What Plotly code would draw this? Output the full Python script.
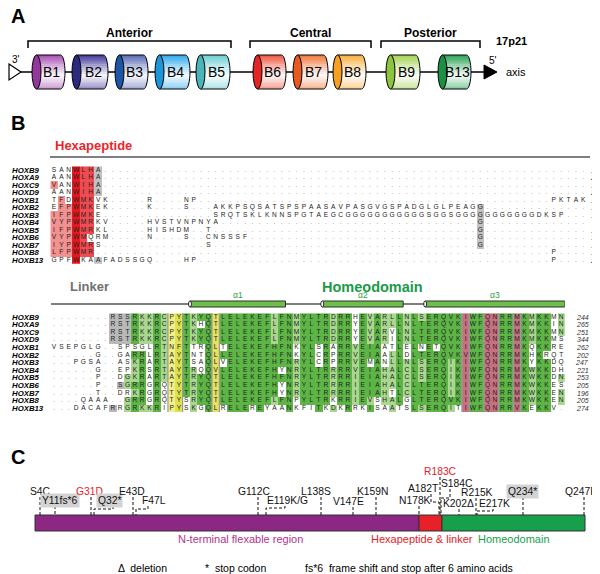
import numpy as np
import plotly.graph_objects as go
from collections import Counter

W, H = 600, 574
FONT = "Liberation Sans, Arial, Helvetica, sans-serif"

# ====================== DATA ======================
cluster_genes = ["B1", "B2", "B3", "B4", "B5", "B6", "B7", "B8", "B9", "B13"]
cluster_groups = ["Anterior", "Central", "Posterior"]
locus_band = "17p21"

align_genes = ["HOXB9", "HOXA9", "HOXC9", "HOXD9", "HOXB1", "HOXB2", "HOXB3",
               "HOXB4", "HOXB5", "HOXB6", "HOXB7", "HOXB8", "HOXB13"]
G = "."  # alignment gap symbol
hexa_seqs = [
    "SANWLHA" + G * 66,
    "AANWLHA" + G * 66,
    "VANWIHA" + G * 66,
    "AANWIHA" + G * 66,
    "TFDWMKVK" + G * 5 + "R" + G * 4 + "NP" + G * 48 + "PKTAK",
    "EFPWMKEK" + G * 5 + "K" + G * 4 + "S" + G * 3 + "AKKPSQSATSPSP" + "AASAVPASGVGSPADGLGLPEAGG" + G * 14,
    "IFPWMKE" + G * 15 + "SRQTSKLKNNSPG" + "TAEGCGGGGGGGGGGGSGGSGGGG" + "GGGGGGGDKSP" + G * 3,
    "VYPWMRKV" + G * 5 + "HVSTVNPNYA" + G * 35 + "G" + G * 14,
    "IFPWMRKL" + G * 5 + "HISHDM" + G * 2 + "T" + G * 36 + "G" + G * 14,
    "VYPWMQRM" + G * 5 + "N" + G * 4 + "S" + G * 2 + "CNSSSF" + G * 31 + "G" + G * 14,
    "IYPWMRS" + G * 14 + "S" + G * 36 + "G" + G * 14,
    "LFPWMR" + G * 62 + "P" + G * 4,
    "GPFWKAAFADSSGQ" + G * 4 + "HP" + G * 48 + "P" + G * 4,
]
hexa_end_pos = [182, 203, 189, 282, 194, 140, 182, 40, 191, 143, 134, 140, 208]

hd_seqs = [
    "........RSSRKKRCPYTKYQTLELEKEFLFNMYLTRDRRHEVARLLNLSERQVKIWFQNRRMKMKKMN",
    "........RSTRKKRCPYTKHQTLELEKEFLFNMYLTRDRRYEVARLLNLTERQVKIWFQNRRMKMKKIN",
    "........RSTRKKRCPYTKYQTLELEKEFLFNMYLTRDRRYEVARVLNLTERQVKIWFQNRRMKMKKMN",
    "........RSTRKKRCPYTKYQTLELEKEFLFNMYLTRDRRYEVARILNLTERQVKIWFQNRRMKMKKMS",
    "VSEPGLG..SPSGLRTNFTTRQLTELEKEFHFNKYLSRARRVEIAATLELNETQVKIWFQNRRMKQKKRE",
    "......G..GARRLRTAYTNTQLLELEKEFHFNKYLCRPRRVEIAALLDLTERQVKVWFQNRRMKHKRQT",
    "...PGSA..ASKRARTAYTSAQLVELEKEFHFNRYLCRPRRVEMANLLNLSERQIKIWFQNRRMKYKKDQ",
    "......G..EPKRSRTAYTRQQVLELEKEFHYNRYLTRRRRVEIAHALCLSERQIKIWFQNRRMKWKKDH",
    "......P..DGKRARTAYTRYQTLELEKEFHFNRYLTRRRRIEIAHALCLSERQIKIWFQNRRMKWKKDN",
    "......P..SGRRGRQTYTRYQTLELEKEFHYNRYLTRRRRIEIAHALCLTERQIKIWFQNRRMKWKKES",
    "......T..DRKRGRQTYTRYQTLELEKEFHYNRYLTRRRRIEIAHTLCLTERQIKIWFQNRRMKWKKEN",
    "....QAAA..GRRGRQTYSRYQTLELEKEFLFNPYLTRKRRIEVSHALGLTERQVKIWFQNRRMKWKKEN",
    "...DACAFRRGRKKRIPYSKGQLRELEREYAANKFITKDKRRKISAATSLSERQITIWFQNRRVKEKKV.",
]
hd_end_pos = [244, 265, 251, 344, 262, 202, 247, 221, 253, 205, 196, 205, 274]

helix_names = ["α1", "α2", "α3"]
helix_first_col = [19, 37, 51]
helix_last_col = [31, 47, 69]

domain_names = ["N-terminal flexable region", "Hexapeptide & linker", "Homeodomain"]
mut_labels = ["S4C", "Y11fs*6", "G31D", "Q32*", "E43D", "F47L", "G112C", "E119K/G",
              "L138S", "V147E", "K159N", "N178K", "A182T", "R183C", "S184C",
              "K202Δ", "R215K", "E217K", "Q234*", "Q247R"]
mut_residues = [4, 11, 31, 32, 43, 47, 112, 119, 138, 147, 159, 178, 182, 183, 184,
                202, 215, 217, 234, 247]
mut_recurrent = ["G31D", "R183C"]
legend_symbols = ["Δ", "*", "fs*6"]
legend_texts = ["deletion", "stop codon", "frame shift and stop after 6 amino acids"]

for s in hexa_seqs:
    assert len(s) == 73, len(s)
for s in hd_seqs:
    assert len(s) == 70, len(s)

# ====================== LAYOUT / STYLE ======================
cyl_left = [24, 64, 107, 147, 188, 245, 285, 325, 378, 430]
cyl_right = [57, 100, 140, 182, 222, 278, 320, 358, 412, 463]
cyl_cap = ["#93379f", "#2b2a7e", "#1d55a5", "#1b96d8", "#49b5b8",
           "#e52424", "#e85a1f", "#f5a020", "#8cc43d", "#1c8f45"]
cyl_body = ["#a850b5", "#45399c", "#5a6bb6", "#2ea9ee", "#6ccfd2",
            "#f0563f", "#f0783a", "#f8b040", "#a5d354", "#2aa355"]
CYT, CYB = 47, 81
bracket_x0 = [20, 242, 373]
bracket_x1 = [223, 363, 472]

site_x = [32, 47, 83, 86, 125, 128, 250, 258, 313, 345, 368, 411, 431, 432, 433, 451, 468, 469, 515, 576]
label_x = [32.5, 52, 81, 101.5, 124, 146, 245.5, 279.5, 307.5, 340.5, 364, 407, 415, 432.5,
           448.5, 450, 468.5, 486, 514.5, 573]
label_y = [483, 492, 483, 492, 483, 492, 483, 492, 483, 493, 483, 492, 480, 463, 475, 495, 484, 495, 483, 483]
attach_x = [None, None, None, 105, None, 140, None, 277, None, None, None, None, 423, None, 442,
            None, None, 485, None, None]
elbow_y = [None, None, None, 501, None, 501, None, 500, None, None, None, None, 494, None, 490,
           None, None, 503, None, None]
dom_x = [27, 411, 434, 577]
dom_color = ["#8d2784", "#e8202a", "#17a04c"]
dom_text_color = ["#b5338a", "#e8202a", "#17a04c"]
dom_label_x = [232, 414, 506]
BAR_T, BAR_B = 507, 523
legend_x = [108, 195, 295]

COL0, COLW = 46.0, 7.35
ROW0_TOP, ROWH_TOP = 162.0, 7.5
ROW0_BOT, ROWH_BOT = 309.0, 7.6

fig = go.Figure()
shapes, annos = [], []


def txt(x, y, s, size, color="#000", xanchor="center", xref="x", yref="y", **kw):
    annos.append(dict(x=x, y=y, text=s, showarrow=False, xref=xref, yref=yref,
                      xanchor=xanchor, yanchor="middle",
                      font=dict(family=FONT, size=size, color=color), **kw))


def hexmix(c, f):
    c = c.lstrip("#")
    r, g, b = int(c[0:2], 16), int(c[2:4], 16), int(c[4:6], 16)
    r = int(255 + (r - 255) * f); g = int(255 + (g - 255) * f); b = int(255 + (b - 255) * f)
    return f"rgb({r},{g},{b})"


# ---------------- Panel A ----------------
txt(10, 8, "<b>A</b>", 20)
shapes.append(dict(type="line", x0=13, x1=478, y0=64, y1=64, line=dict(color="#000", width=1.6), xref="x", yref="y"))
shapes.append(dict(type="path", path="M 1,56 L 13,64 L 1,72 Z", fillcolor="white",
                   line=dict(color="#000", width=1.2), xref="x", yref="y"))
shapes.append(dict(type="path", path="M 476,57 L 489,64 L 476,71 Z", fillcolor="#000",
                   line=dict(color="#000", width=1), xref="x", yref="y"))
txt(8, 51, "3'", 10)
txt(485, 52, "5'", 10)
txt(503, 33, "<b>" + locus_band + "</b>", 11)
txt(508, 64, "axis", 11)

rx = 4.5
cy = (CYT + CYB) / 2
ry = (CYB - CYT) / 2
nstr = 18
k = 0.5523
for i, gname in enumerate(cluster_genes):
    xl, xr = cyl_left[i], cyl_right[i]
    cxl, cxr = xl + rx, xr - rx

    def xr_at(y):
        v = max(0.0, 1 - ((y - cy) / ry) ** 2)
        return cxr + rx * np.sqrt(v)

    for s in range(nstr):
        y0 = CYT + s * (CYB - CYT) / nstr
        y1 = y0 + (CYB - CYT) / nstr
        t = (s + 0.5) / nstr
        f = 1 - 0.97 * t / 0.6 if t < 0.6 else 0.03 + (t - 0.6) / 0.4 * 0.55
        ya, yb = y0, min(CYB, y1 + 0.4)
        shapes.append(dict(type="path",
                           path=f"M {cxl},{ya} L {xr_at(ya):.2f},{ya:.2f} L {xr_at(yb):.2f},{yb:.2f} L {cxl},{yb:.2f} Z",
                           fillcolor=hexmix(cyl_body[i], f), line=dict(width=0), xref="x", yref="y"))
    shapes.append(dict(type="path",
                       path=(f"M {cxl},{CYT} L {cxr},{CYT} C {cxr + k * rx},{CYT} {cxr + rx},{cy - k * ry} {cxr + rx},{cy} "
                             f"C {cxr + rx},{cy + k * ry} {cxr + k * rx},{CYB} {cxr},{CYB} L {cxl},{CYB}"),
                       line=dict(color="#000", width=1), xref="x", yref="y"))
    shapes.append(dict(type="circle", x0=xl, x1=xl + 2 * rx, y0=CYT, y1=CYB, fillcolor=cyl_cap[i],
                       line=dict(color="#000", width=1), xref="x", yref="y"))
    txt((cxl + cxr) / 2 + 3, cy, gname, 14)

for j, gname in enumerate(cluster_groups):
    x0, x1 = bracket_x0[j], bracket_x1[j]
    shapes.append(dict(type="path", path=f"M {x0},40 L {x0},33 L {x1},33 L {x1},40",
                       line=dict(color="#000", width=1.5), xref="x", yref="y"))
    txt((x0 + x1) / 2, 25, "<b>" + gname + "</b>", 12)

# ---------------- Panel B ----------------
txt(10, 115, "<b>B</b>", 20)
txt(45, 137, "<b>Hexapeptide</b>", 13, color="#e8262b", xanchor="left")
shapes.append(dict(type="line", x0=42, x1=582, y0=149, y1=149, line=dict(color="#555", width=1.5), xref="x", yref="y"))
txt(60, 278, "<b>Linker</b>", 13, color="#707070", xanchor="left")
txt(312, 279, "<b>Homeodomain</b>", 14.5, color="#1a9a4a", xanchor="left")
shapes.append(dict(type="line", x0=43, x1=556, y0=296, y1=296, line=dict(color="#555", width=1.5), xref="x", yref="y"))


def discrete(colors):
    n = len(colors)
    cs = []
    for i, c in enumerate(colors):
        cs += [[i / n, c], [(i + 1) / n, c]]
    return cs


# top alignment colours
hexa_cols = ["#e3191f", "#ef4b50", "#f39090", "#c2c2c2"]
nr, nc = len(hexa_seqs), len(hexa_seqs[0])
zt = np.full((nr, nc), np.nan)
for r, seq in enumerate(hexa_seqs):
    for c, ch in enumerate(seq):
        if ch == G:
            continue
        if c == 3 and ch == "W":
            zt[r, c] = 0
        elif (c == 4 and ch in "LIM") or (c == 5 and ch in "HKR"):
            zt[r, c] = 1
        elif (c in (0, 1) and ch in "IVLFY") or (c == 2 and ch == "P"):
            zt[r, c] = 2
        elif (c == 6 and ch == "A") or (c == 58 and ch == "G"):
            zt[r, c] = 3

fig.add_trace(go.Heatmap(z=zt, x=list(range(nc)), y=list(range(nr)), colorscale=discrete(hexa_cols),
                         zmin=-0.5, zmax=len(hexa_cols) - 0.5, showscale=False, hoverinfo="skip",
                         xaxis="x2", yaxis="y2"))

# bottom alignment colours
hd_cols = ["#b9b9b9", "#5cb545", "#a9d790", "#f2ef86", "#dde24e", "#c8707f", "#e6e35c"]
linker_gray = {"HOXB9": (8, 10), "HOXA9": (8, 10), "HOXC9": (8, 10), "HOXD9": (8, 10),
               "HOXB6": (9, 9), "HOXB13": (8, 8)}
nr2, nc2 = len(hd_seqs), len(hd_seqs[0])
zb = np.full((nr2, nc2), np.nan)
for c in range(nc2):
    cnt = Counter(s[c] for s in hd_seqs if s[c] != G)
    for r, seq in enumerate(hd_seqs):
        ch = seq[c]
        if ch == G:
            continue
        gname = align_genes[r]
        if gname in linker_gray and linker_gray[gname][0] <= c <= linker_gray[gname][1]:
            zb[r, c] = 0
        elif c < 10:
            continue
        elif c == 16:
            zb[r, c] = 3
        elif c == 17:
            zb[r, c] = 4
        elif c == 22:
            zb[r, c] = 6
        elif c in (56, 59, 60, 63):
            zb[r, c] = 5
        else:
            n = cnt[ch]
            if n >= 7:
                zb[r, c] = 1
            elif n >= 4:
                zb[r, c] = 2

fig.add_trace(go.Heatmap(z=zb, x=list(range(nc2)), y=list(range(nr2)), colorscale=discrete(hd_cols),
                         zmin=-0.5, zmax=len(hd_cols) - 0.5, showscale=False, hoverinfo="skip",
                         xaxis="x3", yaxis="y3"))


def letters_trace(seqs, xa, ya):
    xs, ys, ts, cs = [], [], [], []
    for r, seq in enumerate(seqs):
        for c, ch in enumerate(seq):
            xs.append(c); ys.append(r); ts.append(ch)
            cs.append("#8a8a8a" if ch == G else "#222")
    return go.Scatter(x=xs, y=ys, text=ts, mode="text", textposition="middle center",
                      textfont=dict(family=FONT, size=6.6, color=cs), hoverinfo="skip",
                      xaxis=xa, yaxis=ya, showlegend=False)


fig.add_trace(letters_trace(hexa_seqs, "x2", "y2"))
fig.add_trace(letters_trace(hd_seqs, "x3", "y3"))

for r, gname in enumerate(align_genes):
    txt(2 / W, r, f"<b><i>{gname}</i></b>", 7.8, xanchor="left", xref="paper", yref="y2")
    txt(597 / W, r, f"<i>{hexa_end_pos[r]}</i>", 7, color="#333", xanchor="right", xref="paper", yref="y2")
    txt(2 / W, r, f"<b><i>{gname}</i></b>", 7.8, xanchor="left", xref="paper", yref="y3")
    txt(583 / W, r, f"<i>{hd_end_pos[r]}</i>", 7, color="#333", xanchor="right", xref="paper", yref="y3")

# boxes around key columns
for (a, b) in [(16, 17), (22, 22), (56, 56), (59, 60), (63, 63)]:
    shapes.append(dict(type="rect", x0=a - 0.5, x1=b + 0.5, y0=-0.75, y1=12.75, xref="x3", yref="y3",
                       line=dict(color="#9a9a9a", width=1.2), fillcolor="rgba(0,0,0,0)"))

# helices
for hname, a, b in zip(helix_names, helix_first_col, helix_last_col):
    shapes.append(dict(type="rect", x0=a - 0.5, x1=b + 0.5, y0=293, y1=299, xref="x3", yref="y",
                       fillcolor="#6cc04a", line=dict(color="#2f2f2f", width=1)))
    shapes.append(dict(type="circle", x0=a - 0.7, x1=a - 0.3, y0=293, y1=299, xref="x3", yref="y",
                       fillcolor="white", line=dict(color="#2f2f2f", width=1)))
    txt((a + b) / 2, 287, hname, 8.5, color="#2ea04a", xref="x3", yref="y")

# ---------------- Panel C ----------------
txt(10, 449, "<b>C</b>", 20)
for d in range(3):
    shapes.append(dict(type="rect", x0=dom_x[d], x1=dom_x[d + 1], y0=BAR_T, y1=BAR_B, xref="x", yref="y",
                       fillcolor=dom_color[d], line=dict(color="#333", width=1)))
    txt(dom_label_x[d], 531, domain_names[d], 11, color=dom_text_color[d])

dash = dict(color="#111", width=1, dash="3px,2px")
for i, lab in enumerate(mut_labels):
    lx, ly, sx = label_x[i], label_y[i], site_x[i]
    color = "#e8202a" if lab in mut_recurrent else "#111"
    boxed = "*" in lab
    if boxed:
        txt(lx, ly, lab, 10.3, color=color, bgcolor="#d3d3d3", borderpad=1)
    else:
        txt(lx, ly, lab, 10.3, color=color)
    top = ly + 6
    if attach_x[i] is None:
        path = f"M {sx},{top} L {sx},{BAR_T}"
    else:
        path = f"M {attach_x[i]},{top} L {attach_x[i]},{elbow_y[i]} L {sx},{elbow_y[i]} L {sx},{BAR_T}"
    shapes.append(dict(type="path", path=path, line=dash, xref="x", yref="y"))

for sym, t, x in zip(legend_symbols, legend_texts, legend_x):
    txt(x, 560, f"{sym}  {t}", 10.5, xanchor="left")

# ---------------- axes ----------------
fig.add_trace(go.Scatter(x=[0, W], y=[0, H], mode="markers", marker=dict(opacity=0),
                         hoverinfo="skip", showlegend=False, xaxis="x", yaxis="y"))


def dom_x_of(ncols):
    return [(COL0 - 0.5 * COLW) / W, (COL0 + (ncols - 0.5) * COLW) / W]


def dom_y_of(row0, rowh, nrows):
    top = row0 - 0.5 * rowh
    bot = row0 + (nrows - 0.5) * rowh
    return [1 - bot / H, 1 - top / H]


ax_hidden = dict(visible=False, showgrid=False, zeroline=False, fixedrange=True)
fig.update_layout(
    width=W, height=H, margin=dict(l=0, r=0, t=0, b=0),
    paper_bgcolor="white", plot_bgcolor="rgba(0,0,0,0)", showlegend=False,
    xaxis=dict(range=[0, W], domain=[0, 1], **ax_hidden),
    yaxis=dict(range=[H, 0], domain=[0, 1], **ax_hidden),
    xaxis2=dict(range=[-0.5, nc - 0.5], domain=dom_x_of(nc), anchor="y2", **ax_hidden),
    yaxis2=dict(range=[nr - 0.5, -0.5], domain=dom_y_of(ROW0_TOP, ROWH_TOP, nr), anchor="x2", **ax_hidden),
    xaxis3=dict(range=[-0.5, nc2 - 0.5], domain=dom_x_of(nc2), anchor="y3", **ax_hidden),
    yaxis3=dict(range=[nr2 - 0.5, -0.5], domain=dom_y_of(ROW0_BOT, ROWH_BOT, nr2), anchor="x3", **ax_hidden),
    shapes=shapes, annotations=annos,
)

fig.write_html("out.html")
